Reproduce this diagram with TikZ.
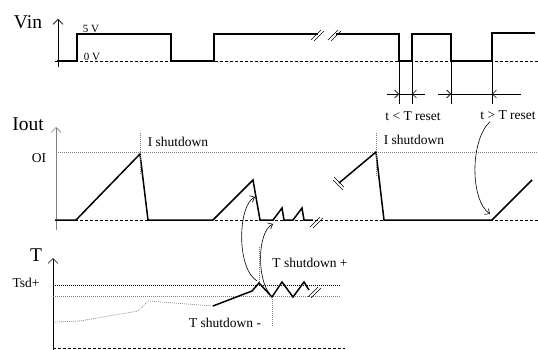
\documentclass[tikz,border=0pt]{standalone}
\usepackage{fontspec}
\setmainfont{Liberation Serif}
\usetikzlibrary{arrows.meta}
\tikzset{
  sig/.style={line width=1.5pt, line join=miter},
  lvl/.style={gray, line width=0.6pt, dash pattern=on 1pt off 1pt},
  base/.style={line width=0.6pt, dash pattern=on 3pt off 2pt},
  axisline/.style={line width=0.7pt, -{Straight Barb[length=5pt,width=10pt]}},
  dimtip/.style={line width=0.6pt, -{Straight Barb[length=4pt,width=8pt]}},
  curvarrow/.style={line width=0.6pt, -{Straight Barb[length=4pt,width=7pt]}},
  lbl/.style={font=\fontsize{13.5}{15}\selectfont, inner sep=0pt},
  big/.style={font=\fontsize{19.5}{22}\selectfont, inner sep=0pt},
  small/.style={font=\fontsize{11}{12}\selectfont, inner sep=0pt},
  brk/.pic={\draw[line width=0.5pt] (-5,5) -- (5,-5); \draw[line width=0.5pt] (-2,6) -- (8,-4);}
}
\begin{document}
\begin{tikzpicture}[x=1pt,y=-1pt]
  \useasboundingbox (0,0) rectangle (538,350);
  % Vin
  \node[big] (vin) at (28,22) {Vin};
  \draw[axisline] (58,67) -- (58,19);
  \draw[base] (55,61) -- (538,61);
  \node[small] (v5) at (91,29) {5 V};
  \node[small] (v0) at (92,57) {0 V};
  \draw[sig] (57,61) -- (77,61) -- (77,34) -- (171,34) -- (171,61) -- (214,61) -- (214,34) -- (318,34);
  \pic at (316,35) {brk};
  \pic at (333,35) {brk};
  \draw[sig] (336,34) -- (399,34) -- (399,61) -- (412,61) -- (412,34) -- (451,34) -- (451,61) -- (492,61) -- (492,33) -- (535,33);
  \foreach \X in {399,412,451,492} {
    \draw[line width=0.6pt] (\X,61) -- (\X,104);}
  \draw[dimtip] (387,94) -- (399,94);
  \draw[line width=0.6pt] (399,94) -- (412,94);
  \draw[dimtip] (425,94) -- (412,94);
  \draw[dimtip] (438,94) -- (451,94);
  \draw[line width=0.6pt] (451,94) -- (492,94);
  \draw[dimtip] (521,94) -- (492,94);
  \node[lbl] (rs) at (413,116) {t < T reset};
  \node[lbl] (rl) at (508,115) {t > T reset};
  % Iout
  \node[big] (iout) at (28,124) {Iout};
  \draw[axisline,gray] (56,230) -- (56,127);
  \node[lbl] (oi) at (39,158) {OI};
  \draw[lvl] (56,152) -- (538,152);
  \draw[base] (55,220) -- (538,220);
  \draw[sig] (55,220) -- (76,220) -- (140,154) -- (148,220) -- (213,220) -- (253,180) -- (260,220) -- (273,220) -- (282,208) -- (284,220) -- (293,220) -- (302,208) -- (304,220) -- (313,220);
  \pic at (315,222) {brk};
  \draw[lvl] (140,133) -- (140,175);
  \node[lbl] (is1) at (178,142) {I shutdown};
  \pic[rotate=90] at (338,185) {brk};
  \draw[sig] (339,183) -- (376,152) -- (384,220) -- (492,220) -- (532,180);
  \draw[lvl] (376,133) -- (376,177);
  \node[lbl] (is2) at (414,140) {I shutdown};
  \draw[curvarrow] (rl.south) ++(-18,2) .. controls (470,140) and (470,200) .. (490,214);
  % T
  \node[big] (temp) at (36,255) {T};
  \draw[axisline] (53,350) -- (53,258);
  \node[lbl] (tsd) at (26,283) {Tsd+};
  \draw[lvl,black] (53,285) -- (340,285);
  \draw[lvl] (53,296) -- (340,296);
  \draw[base] (53,348) -- (345,348);
  \draw[lvl] (55,322) -- (80,321) -- (138,311) -- (148,301) -- (213,306);
  \draw[sig] (213,306) -- (252,291) -- (259,283) -- (272,297) -- (282,282) -- (293,297) -- (304,282) -- (309,290);
  \pic at (313,292) {brk};
  \draw[lvl] (259,247) -- (259,283);
  \draw[lvl] (272,297) -- (272,327);
  \node[lbl] (tsp) at (310,263) {T shutdown +};
  \node[lbl] (tsm) at (225,323) {T shutdown -};
  \draw[curvarrow] (257,281) .. controls (236,268) and (238,205) .. (255,197);
  \draw[curvarrow] (270,294) .. controls (257,280) and (257,232) .. (273,224);
\end{tikzpicture}
\end{document}
